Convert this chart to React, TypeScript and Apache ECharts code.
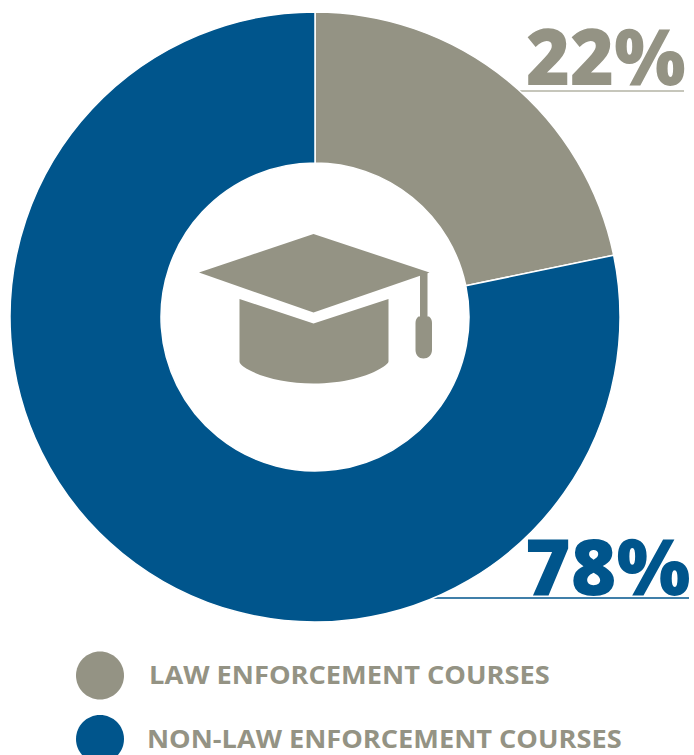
import React, { useEffect, useRef } from "react";
import * as echarts from "echarts";

const categories = ["LAW ENFORCEMENT COURSES", "NON-LAW ENFORCEMENT COURSES"];
const percentLabels = ["22%", "78%"];
const sliceValues = [21.75, 78.25];
const colors = ["#949384", "#00558C"];

const capPath = "M313.5 234 L429.5 272.5 L313.5 312.5 L199 272.5 Z";
const basePath = "M239.5 299 L313.5 323.5 L388.5 299 L388.5 361.5 C388.5 363 386 365 383 367 C368 377 342 383.5 313.5 383.5 C285 383.5 259 377 244 367 C241 365 239.5 363 239.5 361.5 Z";
const tasselPath = "M420 272 L427.5 272 L427.5 316.5 L429 316.5 C431 318 432 320 432 323 L432 350 C432 355 428 358.5 423.5 358.5 C419 358.5 415.5 355 415.5 350 L415.5 323 C415.5 320 416.5 318 418.5 316.5 L420 316.5 Z";

echarts.graphic.registerShape("hatCap", echarts.graphic.extendPath(capPath, {}));
echarts.graphic.registerShape("hatBase", echarts.graphic.extendPath(basePath, {}));
echarts.graphic.registerShape("hatTassel", echarts.graphic.extendPath(tasselPath, {}));

const FONT = "'Open Sans', sans-serif";

export default function App() {
  const ref = useRef<HTMLDivElement>(null);
  useEffect(() => {
    const chart = echarts.init(ref.current!, undefined, { renderer: "svg" });
    chart.setOption({
      animation: false,
      backgroundColor: "#ffffff",
      series: [
        {
          type: "pie",
          center: [315, 317],
          radius: [154, 305],
          startAngle: 90,
          clockwise: true,
          silent: true,
          label: { show: false },
          labelLine: { show: false },
          itemStyle: { borderColor: "#ffffff", borderWidth: 1.5 },
          data: categories.map((name, i) => ({
            name,
            value: sliceValues[i],
            itemStyle: { color: colors[i] },
          })),
        },
      ],
      graphic: [
        { type: "hatCap", x: 0, y: 0, style: { fill: colors[0] } },
        { type: "hatBase", x: 0, y: 0, style: { fill: colors[0] } },
        { type: "hatTassel", x: 0, y: 0, style: { fill: colors[0] } },
        {
          type: "text", x: 526, y: 54, scaleX: 0.965,
          style: { text: percentLabels[0], fill: colors[0], font: `800 78px ${FONT}`, textAlign: "left", textVerticalAlign: "middle" },
        },
        { type: "line", shape: { x1: 520, y1: 91, x2: 684, y2: 91 }, style: { stroke: "#b3b3a5", lineWidth: 1.5 } },
        {
          type: "text", x: 525, y: 565,
          style: { text: percentLabels[1], fill: colors[1], font: `800 78px ${FONT}`, textAlign: "left", textVerticalAlign: "middle" },
        },
        { type: "line", shape: { x1: 433, y1: 598, x2: 689, y2: 598 }, style: { stroke: colors[1], lineWidth: 1.5 } },
        { type: "ellipse", shape: { cx: 100, cy: 675.5, rx: 24, ry: 24 }, style: { fill: colors[0] } },
        { type: "ellipse", shape: { cx: 100, cy: 739, rx: 24, ry: 24 }, style: { fill: colors[1] } },
        {
          type: "text", x: 149, y: 674, scaleX: 1.09,
          style: { text: categories[0], fill: colors[0], font: `700 25px ${FONT}`, textAlign: "left", textVerticalAlign: "middle" },
        },
        {
          type: "text", x: 147, y: 738, scaleX: 1.087,
          style: { text: categories[1], fill: colors[0], font: `700 25px ${FONT}`, textAlign: "left", textVerticalAlign: "middle" },
        },
      ],
    });
    return () => chart.dispose();
  }, []);
  return <div ref={ref} style={{ position: "absolute", left: 0, top: 0, width: 694, height: 755, overflow: "hidden" }} />;
}
